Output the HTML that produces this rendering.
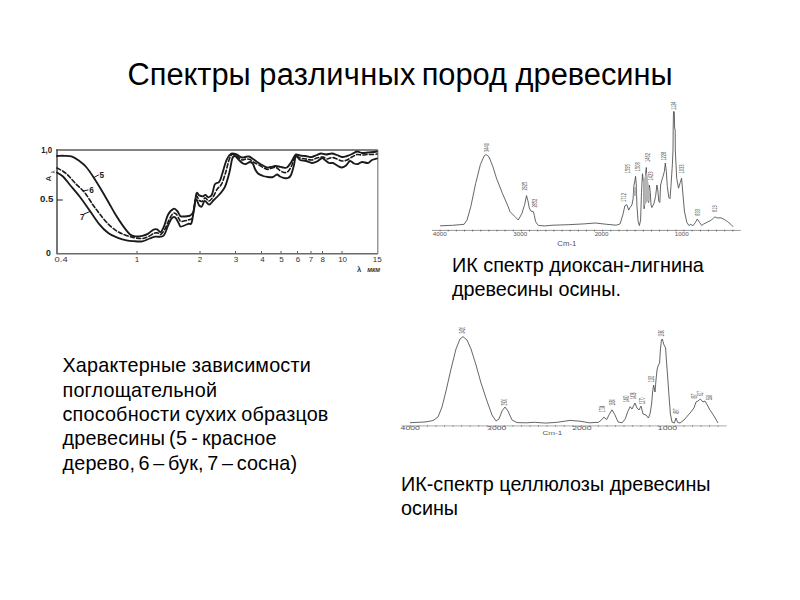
<!DOCTYPE html>
<html><head><meta charset="utf-8"><title>Спектры различных пород древесины</title>
<style>
html,body{margin:0;padding:0;background:#fff;}
body{width:800px;height:600px;position:relative;overflow:hidden;font-family:"Liberation Sans",Arial,sans-serif;color:#000;}
.t{position:absolute;white-space:nowrap;}
h1{position:absolute;margin:0;font-weight:normal;font-size:30.8px;left:127.5px;top:57.3px;white-space:nowrap;line-height:36px;color:#000;}
.b{font-size:19.8px;line-height:24.3px;color:#000;}
svg{position:absolute;left:0;top:0;}
</style></head><body>
<h1>Спектры <span style="letter-spacing:0.33px">различных</span><span style="word-spacing:-2.6px"> пород</span> древесины</h1>
<svg width="800" height="600" viewBox="0 0 800 600">
<g fill="none" stroke-width="1.4">
<path d="M56,150 L377.8,150" stroke="#5a5a5a"/>
<path d="M377.8,150 L377.8,253.8" stroke="#8a8a8a" stroke-width="1.3"/>
<path d="M57,149.5 L57,254.2" stroke="#4a4a4a" stroke-width="1.5"/>
<path d="M57,253.8 L377.8,253.8" stroke="#6a6a6a"/>
<path d="M57,200 L62.8,200" stroke="#333" stroke-width="1.1"/>
<path d="M137,253.3 L137,251" stroke="#555" stroke-width="1"/>
<path d="M200,253.3 L200,251" stroke="#555" stroke-width="1"/>
<path d="M235.5,253.3 L235.5,251" stroke="#555" stroke-width="1"/>
<path d="M261.5,253.3 L261.5,251" stroke="#555" stroke-width="1"/>
<path d="M281,253.3 L281,251" stroke="#555" stroke-width="1"/>
<path d="M297.5,253.3 L297.5,251" stroke="#555" stroke-width="1"/>
<path d="M311,253.3 L311,251" stroke="#555" stroke-width="1"/>
<path d="M322.5,253.3 L322.5,251" stroke="#555" stroke-width="1"/>
<path d="M342,253.3 L342,251" stroke="#555" stroke-width="1"/>
</g>
<g fill="none" stroke="#1a1a1a" stroke-width="1.85" stroke-linejoin="round" stroke-linecap="round">
<path d="M57.0,156.0 C58.2,156.0 61.6,155.7 64.0,155.8 C66.4,155.9 69.0,155.6 71.5,156.4 C74.0,157.2 76.3,158.8 78.8,160.6 C81.2,162.4 83.7,164.1 86.2,167.0 C88.7,169.9 91.6,174.3 94.0,178.0 C96.4,181.7 98.4,185.0 100.8,189.0 C103.2,193.0 105.8,197.5 108.2,201.8 C110.7,206.1 113.1,210.6 115.5,214.6 C117.9,218.6 120.4,222.3 122.8,225.6 C125.2,228.9 128.0,232.7 130.1,234.5 C132.2,236.3 133.6,236.2 135.6,236.4 C137.6,236.6 140.3,236.2 142.3,235.8 C144.3,235.4 146.0,234.9 147.8,233.9 C149.6,232.9 151.8,230.5 153.3,229.7 C154.8,228.9 155.8,228.9 157.0,229.3 C158.2,229.7 159.5,232.7 160.7,232.1 C161.9,231.5 163.1,228.6 164.3,225.7 C165.5,222.8 166.5,217.5 168.0,214.7 C169.5,211.9 172.0,209.4 173.5,208.8 C175.0,208.2 176.1,209.9 177.2,211.0 C178.3,212.1 179.1,214.7 179.9,215.6 C180.7,216.5 180.1,216.5 181.8,216.5 C183.5,216.5 188.0,216.5 190.0,215.6 C192.0,214.7 192.6,214.7 193.7,211.0 C194.8,207.3 195.5,196.2 196.4,193.6 C197.3,191.0 198.1,194.9 199.2,195.4 C200.3,195.9 201.7,196.4 202.8,196.3 C203.9,196.2 204.7,194.7 205.6,194.9 C206.5,195.1 207.2,197.4 208.3,197.3 C209.4,197.2 210.9,196.7 212.0,194.5 C213.1,192.3 213.6,186.5 214.8,184.4 C216.0,182.3 218.1,183.4 219.3,181.7 C220.5,180.0 220.9,178.0 222.1,174.3 C223.3,170.6 225.2,163.1 226.7,159.7 C228.2,156.2 229.8,154.5 231.3,153.6 C232.9,152.7 234.7,153.8 236.0,154.2 C237.3,154.6 238.0,155.4 239.0,156.0 C240.0,156.6 241.0,157.3 242.0,157.5 C243.0,157.7 243.8,157.2 245.0,157.0 C246.2,156.8 247.7,156.2 249.0,156.5 C250.3,156.8 251.5,158.0 253.0,159.0 C254.5,160.0 256.3,161.4 258.0,162.5 C259.7,163.6 261.5,164.7 263.0,165.5 C264.5,166.3 265.7,167.2 267.0,167.5 C268.3,167.8 269.7,167.2 271.0,167.0 C272.3,166.8 273.7,166.1 275.0,166.0 C276.3,165.9 277.7,166.2 279.0,166.5 C280.3,166.8 281.7,167.3 283.0,167.5 C284.3,167.7 285.7,168.3 287.0,167.5 C288.3,166.7 289.8,164.2 291.0,162.5 C292.2,160.8 293.2,158.3 294.0,157.0 C294.8,155.7 295.0,154.8 296.0,154.5 C297.0,154.2 298.5,155.2 300.0,155.5 C301.5,155.8 303.3,155.8 305.0,156.0 C306.7,156.2 308.8,156.8 310.0,157.0 C311.2,157.2 310.8,157.3 312.0,157.0 C313.2,156.7 315.5,155.6 317.0,155.0 C318.5,154.4 319.5,153.6 321.0,153.5 C322.5,153.4 324.2,154.5 326.0,154.5 C327.8,154.5 330.2,153.4 332.0,153.5 C333.8,153.6 335.3,154.4 337.0,155.0 C338.7,155.6 340.3,156.8 342.0,157.0 C343.7,157.2 345.3,156.5 347.0,156.0 C348.7,155.5 350.3,154.8 352.0,154.0 C353.7,153.2 355.3,151.7 357.0,151.5 C358.7,151.3 360.2,152.8 362.0,153.0 C363.8,153.2 366.0,152.7 368.0,152.5 C370.0,152.3 372.5,152.2 374.0,152.0 C375.5,151.8 376.5,151.6 377.0,151.5"/>
<path d="M57.0,168.0 C58.5,168.9 62.8,170.7 66.0,173.4 C69.2,176.1 72.8,180.7 76.0,184.0 C79.2,187.3 82.2,189.5 85.0,193.0 C87.8,196.5 90.7,201.7 93.0,205.0 C95.3,208.3 96.8,210.2 99.0,213.0 C101.2,215.8 103.5,219.1 106.3,222.0 C109.0,224.9 112.5,228.1 115.5,230.2 C118.5,232.3 121.5,233.6 124.6,234.8 C127.6,236.0 130.9,237.0 133.8,237.6 C136.8,238.2 139.8,238.7 142.3,238.5 C144.8,238.3 147.0,237.1 149.0,236.2 C151.0,235.3 152.7,233.7 154.2,233.2 C155.7,232.7 156.9,232.8 158.0,233.0 C159.1,233.2 159.6,234.9 160.7,234.4 C161.8,233.9 162.9,232.6 164.3,230.2 C165.7,227.8 167.6,222.8 169.0,220.0 C170.4,217.2 171.8,214.5 173.0,213.5 C174.2,212.5 175.1,213.2 176.2,214.2 C177.3,215.2 178.7,218.5 179.5,219.7 C180.3,220.9 179.7,221.5 181.3,221.5 C182.9,221.5 187.1,220.5 189.0,219.7 C190.9,218.9 191.5,220.3 192.7,216.5 C193.9,212.7 194.9,199.5 196.0,196.8 C197.1,194.1 198.1,199.7 199.2,200.4 C200.2,201.2 201.3,201.7 202.3,201.3 C203.3,200.9 204.0,198.0 205.1,197.9 C206.2,197.8 207.5,201.1 208.8,201.0 C210.1,200.9 211.5,199.1 212.9,197.2 C214.3,195.3 215.6,191.6 217.0,189.4 C218.4,187.2 220.1,186.9 221.5,184.2 C222.9,181.5 224.2,177.0 225.5,173.0 C226.8,169.0 227.9,163.1 229.0,160.0 C230.1,156.9 231.0,155.3 232.0,154.5 C233.0,153.7 234.0,154.7 235.0,155.1 C236.0,155.5 236.8,156.2 238.0,157.0 C239.2,157.8 240.7,159.7 242.0,160.0 C243.3,160.3 244.7,159.1 246.0,159.0 C247.3,158.9 248.7,158.9 250.0,159.5 C251.3,160.1 252.5,161.6 254.0,162.5 C255.5,163.4 257.3,164.1 259.0,165.0 C260.7,165.9 262.5,167.2 264.0,168.0 C265.5,168.8 266.7,169.5 268.0,169.5 C269.3,169.5 270.7,168.3 272.0,168.0 C273.3,167.7 274.7,167.1 276.0,167.5 C277.3,167.9 278.7,169.7 280.0,170.5 C281.3,171.3 282.7,172.3 284.0,172.5 C285.3,172.7 286.7,172.8 288.0,171.5 C289.3,170.2 290.8,167.6 292.0,165.0 C293.2,162.4 293.7,157.2 295.0,156.0 C296.3,154.8 298.2,157.5 300.0,158.0 C301.8,158.5 304.0,158.7 306.0,159.0 C308.0,159.3 310.2,160.2 312.0,160.0 C313.8,159.8 315.2,158.5 317.0,158.0 C318.8,157.5 321.3,156.8 323.0,157.0 C324.7,157.2 325.5,158.9 327.0,159.0 C328.5,159.1 330.3,157.5 332.0,157.5 C333.7,157.5 335.3,158.4 337.0,159.0 C338.7,159.6 340.3,160.8 342.0,161.0 C343.7,161.2 345.3,160.7 347.0,160.0 C348.7,159.3 350.3,157.9 352.0,157.0 C353.7,156.1 355.3,154.8 357.0,154.5 C358.7,154.2 360.2,155.0 362.0,155.0 C363.8,155.0 366.0,154.6 368.0,154.5 C370.0,154.4 372.5,154.6 374.0,154.5 C375.5,154.4 376.5,154.1 377.0,154.0" stroke-dasharray="4 2.4" stroke-width="1.6"/>
<path d="M57.0,172.5 C58.0,173.2 60.8,174.4 63.0,176.5 C65.2,178.6 67.2,181.6 70.0,185.0 C72.8,188.4 76.7,192.7 80.0,197.0 C83.3,201.3 86.8,206.5 90.0,211.0 C93.2,215.5 96.0,220.1 99.0,223.8 C102.0,227.5 105.2,230.7 108.2,233.0 C111.2,235.3 114.2,236.4 117.3,237.6 C120.3,238.8 123.8,239.7 126.5,240.3 C129.2,240.9 131.2,241.0 133.8,241.2 C136.4,241.4 139.7,241.8 142.3,241.3 C145.0,240.9 147.5,239.3 149.7,238.5 C151.8,237.7 153.4,237.0 155.2,236.7 C157.0,236.4 159.2,237.0 160.7,236.7 C162.2,236.4 163.1,236.6 164.3,234.8 C165.5,233.0 166.8,228.4 168.0,225.7 C169.2,222.9 170.5,219.7 171.7,218.3 C172.9,216.9 174.1,216.5 175.3,217.4 C176.5,218.3 178.1,222.3 179.0,223.8 C179.9,225.3 179.3,226.6 180.8,226.6 C182.3,226.6 186.4,224.6 188.2,223.8 C190.0,223.0 190.6,226.0 191.8,222.0 C193.0,218.0 194.3,202.8 195.5,200.0 C196.7,197.2 198.1,204.4 199.2,205.5 C200.3,206.6 201.0,207.2 201.9,206.4 C202.8,205.6 203.5,201.2 204.7,200.9 C205.9,200.6 207.8,204.8 209.3,204.6 C210.8,204.4 212.1,201.7 213.8,200.0 C215.5,198.3 217.5,196.6 219.3,194.5 C221.1,192.4 223.1,190.9 224.8,187.2 C226.5,183.5 228.2,177.2 229.4,172.5 C230.6,167.8 231.3,161.6 232.2,158.8 C233.1,156.1 233.9,155.8 235.0,156.0 C236.1,156.2 237.7,158.8 239.0,160.0 C240.3,161.2 241.8,162.8 243.0,163.5 C244.2,164.2 244.8,164.2 246.0,164.0 C247.2,163.8 248.8,162.0 250.0,162.0 C251.2,162.0 252.2,162.8 253.0,164.0 C253.8,165.2 254.2,167.4 255.0,169.0 C255.8,170.6 256.7,172.3 258.0,173.5 C259.3,174.7 261.3,175.4 263.0,176.0 C264.7,176.6 266.3,176.8 268.0,177.0 C269.7,177.2 271.5,177.4 273.0,177.0 C274.5,176.6 275.8,174.6 277.0,174.5 C278.2,174.4 278.8,175.9 280.0,176.5 C281.2,177.1 282.7,177.8 284.0,178.0 C285.3,178.2 286.8,178.5 288.0,178.0 C289.2,177.5 290.0,177.2 291.0,175.0 C292.0,172.8 293.2,168.2 294.0,165.0 C294.8,161.8 295.0,156.8 296.0,156.0 C297.0,155.2 298.3,159.2 300.0,160.0 C301.7,160.8 304.0,160.5 306.0,161.0 C308.0,161.5 310.2,162.9 312.0,163.0 C313.8,163.1 315.3,162.3 317.0,161.5 C318.7,160.7 320.7,158.2 322.0,158.0 C323.3,157.8 323.8,159.2 325.0,160.0 C326.2,160.8 327.7,162.5 329.0,163.0 C330.3,163.5 331.5,162.5 333.0,163.0 C334.5,163.5 336.5,165.2 338.0,166.0 C339.5,166.8 340.7,167.6 342.0,167.5 C343.3,167.4 344.7,166.6 346.0,165.5 C347.3,164.4 348.7,161.3 350.0,161.0 C351.3,160.7 352.7,163.0 354.0,163.5 C355.3,164.0 356.7,164.2 358.0,164.0 C359.3,163.8 360.3,162.2 362.0,162.0 C363.7,161.8 366.3,163.3 368.0,163.0 C369.7,162.7 370.5,160.8 372.0,160.0 C373.5,159.2 376.2,158.8 377.0,158.5"/>
<path d="M94,177.5 L98.5,175" stroke-width="1"/>
<path d="M83,191 L88,190" stroke-width="1"/>
<path d="M90,211.5 L84,214" stroke-width="1"/>
</g>
<g font-family="Liberation Sans, sans-serif" font-size="9" fill="#222">
<text x="99.4" y="178.3" font-size="8.2" font-weight="bold">5</text>
<text x="89.2" y="193.3" font-size="8.2" font-weight="bold">6</text>
<text x="80" y="220" font-size="8.2" font-weight="bold">7</text>
<text x="41.3" y="153.2" font-weight="bold" textLength="10.8" lengthAdjust="spacingAndGlyphs">1,0</text>
<text x="39.9" y="202" font-weight="bold" textLength="13.4" lengthAdjust="spacingAndGlyphs">0.5</text>
<text x="46.1" y="255.6" font-size="8.7" font-weight="bold">0</text>
</g>
<g font-family="Liberation Sans, sans-serif" font-size="8" fill="#333" text-anchor="middle">
<text x="61.1" y="262.4" textLength="13" lengthAdjust="spacingAndGlyphs">0.4</text>
<text x="137" y="261.6">1</text>
<text x="200" y="261.6">2</text>
<text x="235.9" y="261.6">3</text>
<text x="262.5" y="261.6">4</text>
<text x="281.6" y="261.6">5</text>
<text x="298" y="261.6">6</text>
<text x="311" y="261.6">7</text>
<text x="322.8" y="261.6">8</text>
<text x="342.6" y="261.6">10</text>
<text x="377.2" y="261.6">15</text>
<text x="357" y="271.7" font-size="7.5" font-weight="bold" text-anchor="start">λ</text>
<text x="367.2" y="271.7" font-size="6.5" font-style="italic" font-weight="bold" text-anchor="start" textLength="13" lengthAdjust="spacingAndGlyphs">мкм</text>
<text transform="translate(51,181.5) rotate(-90)" font-size="8" font-weight="bold" text-anchor="start">A</text>
<text transform="translate(55,173.5) rotate(-90)" font-size="6" text-anchor="start">λ</text>
</g>
<g fill="none" stroke="#4a4a4a" stroke-width="0.85" stroke-linejoin="round">
<path d="M440.1,225.8 L452.6,225.3 L464.1,224.3 L467.0,220.1 L470.8,206.7 L475.6,183.7 L480.4,164.5 L484.2,155.9 L486.1,154.5 L489.0,156.8 L492.8,166.4 L496.7,178.9 L502.4,193.3 L508.2,206.7 L510.0,211.7 L514.6,216.3 L518.3,220.0 L521.9,213.5 L524.7,204.4 L526.5,195.6 L527.9,200.7 L529.3,208.0 L531.1,211.2 L533.4,211.7 L534.3,215.4 L535.7,221.8 L538.4,225.5 L544.9,225.9 L553.0,225.2 L568.3,224.7 L583.7,223.9 L595.2,223.0 L606.7,224.3 L616.2,225.2 L620.1,223.9 L623.0,214.3 L624.9,205.7 L626.8,204.7 L628.7,210.1 L630.0,207.5 L631.9,205.0 L633.1,198.8 L633.8,186.3 L635.0,180.0 L635.6,176.3 L636.3,185.0 L636.9,205.0 L638.1,221.3 L639.4,225.6 L640.6,220.0 L641.5,192.5 L642.1,180.0 L642.5,173.8 L643.4,182.0 L643.8,190.0 L644.1,208.8 L644.8,192.5 L645.6,173.8 L646.3,167.5 L646.9,180.0 L647.5,198.8 L648.5,202.5 L649.4,185.0 L650.3,192.5 L651.0,205.0 L651.9,207.5 L653.8,203.8 L655.6,196.3 L656.9,185.0 L657.8,190.0 L658.8,201.3 L659.8,202.5 L660.6,185.0 L661.9,180.0 L663.1,176.3 L664.4,171.3 L665.3,163.0 L666.3,171.3 L667.3,186.3 L668.8,197.5 L670.0,198.8 L671.0,185.4 L672.4,164.2 L673.0,150.0 L673.2,128.0 L673.5,111.5 L674.3,111.8 L674.6,128.0 L675.2,130.0 L675.3,150.0 L676.7,178.3 L678.5,188.2 L680.2,182.6 L681.6,178.3 L682.9,194.0 L684.4,211.0 L686.8,222.3 L688.9,225.5 L690.8,224.4 L693.0,225.7 L695.2,222.8 L697.3,219.0 L699.5,222.3 L701.7,225.5 L703.8,223.9 L707.1,222.3 L711.4,220.1 L714.7,216.8 L716.8,217.9 L721.2,217.9 L724.4,219.5 L727.7,221.7 L730.9,224.4 L733.1,226.8"/>
<path d="M633.9,187 L636.2,187 L636.4,196 L633.6,196 Z M643,182 L645.4,175 L646.6,172 L648.6,184 L649.8,191 L649.8,202 L647.6,201 L644.2,206 Z" fill="#b4b4b4" stroke="none"/>
<path d="M432,230.4 L740.7,230.4" stroke="#999" stroke-width="1"/>
<path d="M440.1,229.9 L440.1,231.3 M448.2,229.9 L448.2,231.3 M456.4,229.9 L456.4,231.3 M464.5,229.9 L464.5,231.3 M472.6,229.9 L472.6,231.3 M480.8,229.9 L480.8,231.3 M488.9,229.9 L488.9,231.3 M497.0,229.9 L497.0,231.3 M505.1,229.9 L505.1,231.3 M513.3,229.9 L513.3,231.3 M521.4,229.9 L521.4,231.3 M529.5,229.9 L529.5,231.3 M537.7,229.9 L537.7,231.3 M545.8,229.9 L545.8,231.3 M553.9,229.9 L553.9,231.3 M562.1,229.9 L562.1,231.3 M570.2,229.9 L570.2,231.3 M578.3,229.9 L578.3,231.3 M586.4,229.9 L586.4,231.3 M594.6,229.9 L594.6,231.3 M602.7,229.9 L602.7,231.3 M610.8,229.9 L610.8,231.3 M619.0,229.9 L619.0,231.3 M627.1,229.9 L627.1,231.3 M635.2,229.9 L635.2,231.3 M643.4,229.9 L643.4,231.3 M651.5,229.9 L651.5,231.3 M659.6,229.9 L659.6,231.3 M667.7,229.9 L667.7,231.3 M675.9,229.9 L675.9,231.3 M684.0,229.9 L684.0,231.3 M692.1,229.9 L692.1,231.3 M700.3,229.9 L700.3,231.3 M708.4,229.9 L708.4,231.3 M716.5,229.9 L716.5,231.3 M724.7,229.9 L724.7,231.3 M732.8,229.9 L732.8,231.3 " stroke="#555" stroke-width="1"/>
</g>
<g font-family="Liberation Sans, sans-serif" font-size="5.6" fill="#555" text-anchor="middle">
<text transform="translate(439.8,236.4) scale(1.12,1)">4000</text>
<text transform="translate(520.3,236.4) scale(1.12,1)">3000</text>
<text transform="translate(601.6,236.4) scale(1.12,1)">2000</text>
<text transform="translate(681.8,236.4) scale(1.12,1)">1000</text>
<text transform="translate(566.8,246.4) scale(1.23,1)" font-size="6.3">Cm-1</text>
</g>
<g font-family="Liberation Sans, sans-serif" font-size="4.0" fill="#555">
<text transform="translate(488.9,152) rotate(-90) scale(1,2.0)">3440</text>
<text transform="translate(527.4,190.6) rotate(-90) scale(1,2.0)">2925</text>
<text transform="translate(536.9,207.6) rotate(-90) scale(1,2.0)">2852</text>
<text transform="translate(625.9,201.9) rotate(-90) scale(1,2.0)">1712</text>
<text transform="translate(630.4,173.2) rotate(-90) scale(1,2.0)">1595</text>
<text transform="translate(640.4,171.2) rotate(-90) scale(1,2.0)">1508</text>
<text transform="translate(649.9,162) rotate(-90) scale(1,2.0)">1462</text>
<text transform="translate(653.4,180.4) rotate(-90) scale(1,2.0)">1423</text>
<text transform="translate(666.1,160.6) rotate(-90) scale(1,2.0)">1228</text>
<text transform="translate(675.9,110) rotate(-90) scale(1,2.0)">1124</text>
<text transform="translate(683.9,173.4) rotate(-90) scale(1,2.0)">1033</text>
<text transform="translate(699.9,215.8) rotate(-90) scale(1,2.0)">833</text>
<text transform="translate(717.0,212) rotate(-90) scale(1,2.0)">619</text>
</g>
<g fill="none" stroke="#4a4a4a" stroke-width="0.85" stroke-linejoin="round">
<path d="M410.0,422.7 L425.0,422.0 L433.0,420.6 L438.0,417.0 L442.0,407.0 L446.0,391.0 L451.0,369.0 L456.0,349.0 L460.0,339.0 L463.0,336.6 L467.0,340.0 L471.0,349.0 L476.0,365.0 L481.0,383.0 L487.0,401.0 L492.0,415.0 L496.0,421.0 L499.0,419.0 L502.0,411.0 L505.0,407.0 L508.0,411.0 L512.0,420.0 L517.0,422.6 L526.2,422.8 L534.4,422.3 L545.7,423.1 L557.1,422.3 L570.1,420.4 L579.9,421.2 L589.6,422.8 L598.6,422.3 L601.8,419.6 L603.9,417.1 L606.7,419.6 L609.1,414.7 L612.0,409.8 L614.8,414.7 L618.1,422.0 L622.1,422.8 L625.4,418.7 L627.8,411.4 L630.2,406.6 L632.0,409.0 L635.0,403.0 L637.0,408.0 L639.0,410.0 L641.0,406.0 L643.0,414.0 L646.0,415.0 L648.4,418.0 L650.0,414.0 L651.6,404.0 L652.6,392.0 L653.6,385.0 L655.0,392.0 L656.0,380.0 L657.0,370.0 L658.0,366.0 L659.6,363.0 L660.4,350.0 L661.4,340.0 L662.4,339.0 L663.6,344.0 L665.6,348.0 L666.4,360.0 L667.6,376.0 L669.0,396.0 L670.4,414.0 L672.0,422.0 L674.4,423.0 L676.0,418.0 L677.6,422.4 L680.0,423.0 L684.0,420.0 L690.0,413.0 L694.0,408.0 L696.0,402.0 L698.0,401.0 L700.4,399.0 L703.0,402.0 L705.0,401.0 L710.0,410.0 L714.0,416.0 L718.0,423.0"/>
<path d="M401.5,425.9 L726.6,425.9" stroke="#bbb" stroke-width="1.2"/>
<path d="M410.3,425.4 L410.3,426.6 M418.8,425.4 L418.8,426.6 M427.4,425.4 L427.4,426.6 M435.9,425.4 L435.9,426.6 M444.5,425.4 L444.5,426.6 M453.0,425.4 L453.0,426.6 M461.6,425.4 L461.6,426.6 M470.1,425.4 L470.1,426.6 M478.7,425.4 L478.7,426.6 M487.2,425.4 L487.2,426.6 M495.8,425.4 L495.8,426.6 M504.3,425.4 L504.3,426.6 M512.9,425.4 L512.9,426.6 M521.5,425.4 L521.5,426.6 M530.0,425.4 L530.0,426.6 M538.5,425.4 L538.5,426.6 M547.1,425.4 L547.1,426.6 M555.6,425.4 L555.6,426.6 M564.2,425.4 L564.2,426.6 M572.8,425.4 L572.8,426.6 M581.3,425.4 L581.3,426.6 M589.9,425.4 L589.9,426.6 M598.4,425.4 L598.4,426.6 M607.0,425.4 L607.0,426.6 M615.5,425.4 L615.5,426.6 M624.0,425.4 L624.0,426.6 M632.6,425.4 L632.6,426.6 M641.1,425.4 L641.1,426.6 M649.7,425.4 L649.7,426.6 M658.2,425.4 L658.2,426.6 M666.8,425.4 L666.8,426.6 M675.4,425.4 L675.4,426.6 M683.9,425.4 L683.9,426.6 M692.5,425.4 L692.5,426.6 M701.0,425.4 L701.0,426.6 M709.5,425.4 L709.5,426.6 M718.1,425.4 L718.1,426.6 " stroke="#777" stroke-width="1"/>
</g>
<g font-family="Liberation Sans, sans-serif" font-size="5.6" fill="#555" text-anchor="middle">
<text transform="translate(410.2,430.2) scale(1.55,1)">4000</text>
<text transform="translate(496.7,430.2) scale(1.55,1)">3000</text>
<text transform="translate(581.8,430.2) scale(1.55,1)">2000</text>
<text transform="translate(667.5,430.2) scale(1.55,1)">1000</text>
<text transform="translate(552.3,435.4) scale(1.35,1)" font-size="6">Cm-1</text>
</g>
<g font-family="Liberation Sans, sans-serif" font-size="2.9" fill="#555">
<text transform="translate(464.6,333.4) rotate(-90) scale(1,2.9)">3420</text>
<text transform="translate(507.0,405.4) rotate(-90) scale(1,2.9)">2900</text>
<text transform="translate(605.3,412) rotate(-90) scale(1,2.9)">1734</text>
<text transform="translate(614.6,405.5) rotate(-90) scale(1,2.9)">1650</text>
<text transform="translate(629.2,402) rotate(-90) scale(1,2.9)">1460</text>
<text transform="translate(635.7,399) rotate(-90) scale(1,2.9)">1428</text>
<text transform="translate(645.0,404) rotate(-90) scale(1,2.9)">1370</text>
<text transform="translate(654.0,382) rotate(-90) scale(1,2.9)">1162</text>
<text transform="translate(664.0,336.4) rotate(-90) scale(1,2.9)">1060</text>
<text transform="translate(679.0,413.5) rotate(-90) scale(1,2.9)">897</text>
<text transform="translate(697.0,398.5) rotate(-90) scale(1,2.9)">667</text>
<text transform="translate(703.4,396) rotate(-90) scale(1,2.9)">617</text>
<text transform="translate(711.6,400) rotate(-90) scale(1,2.9)">558</text>
</g>
</svg>
<div class="t b" style="left:62.5px;top:353.4px;letter-spacing:0.18px"><span style="word-spacing:-0.5px">Характерные зависимости</span><br>поглощательной<br><span style="word-spacing:-1px">способности сухих образцов</span><br><span style="word-spacing:-1.6px">древесины (5 - красное</span><br><span style="word-spacing:-2.15px">дерево, 6 – бук, 7 – сосна)</span></div>
<div class="t b" style="left:452px;top:253.6px;line-height:23.9px">ИК спектр диоксан-лигнина<br>древесины осины.</div>
<div class="t b" style="left:401px;top:472.2px">ИК-спектр целлюлозы древесины<br>осины</div>
</body></html>
